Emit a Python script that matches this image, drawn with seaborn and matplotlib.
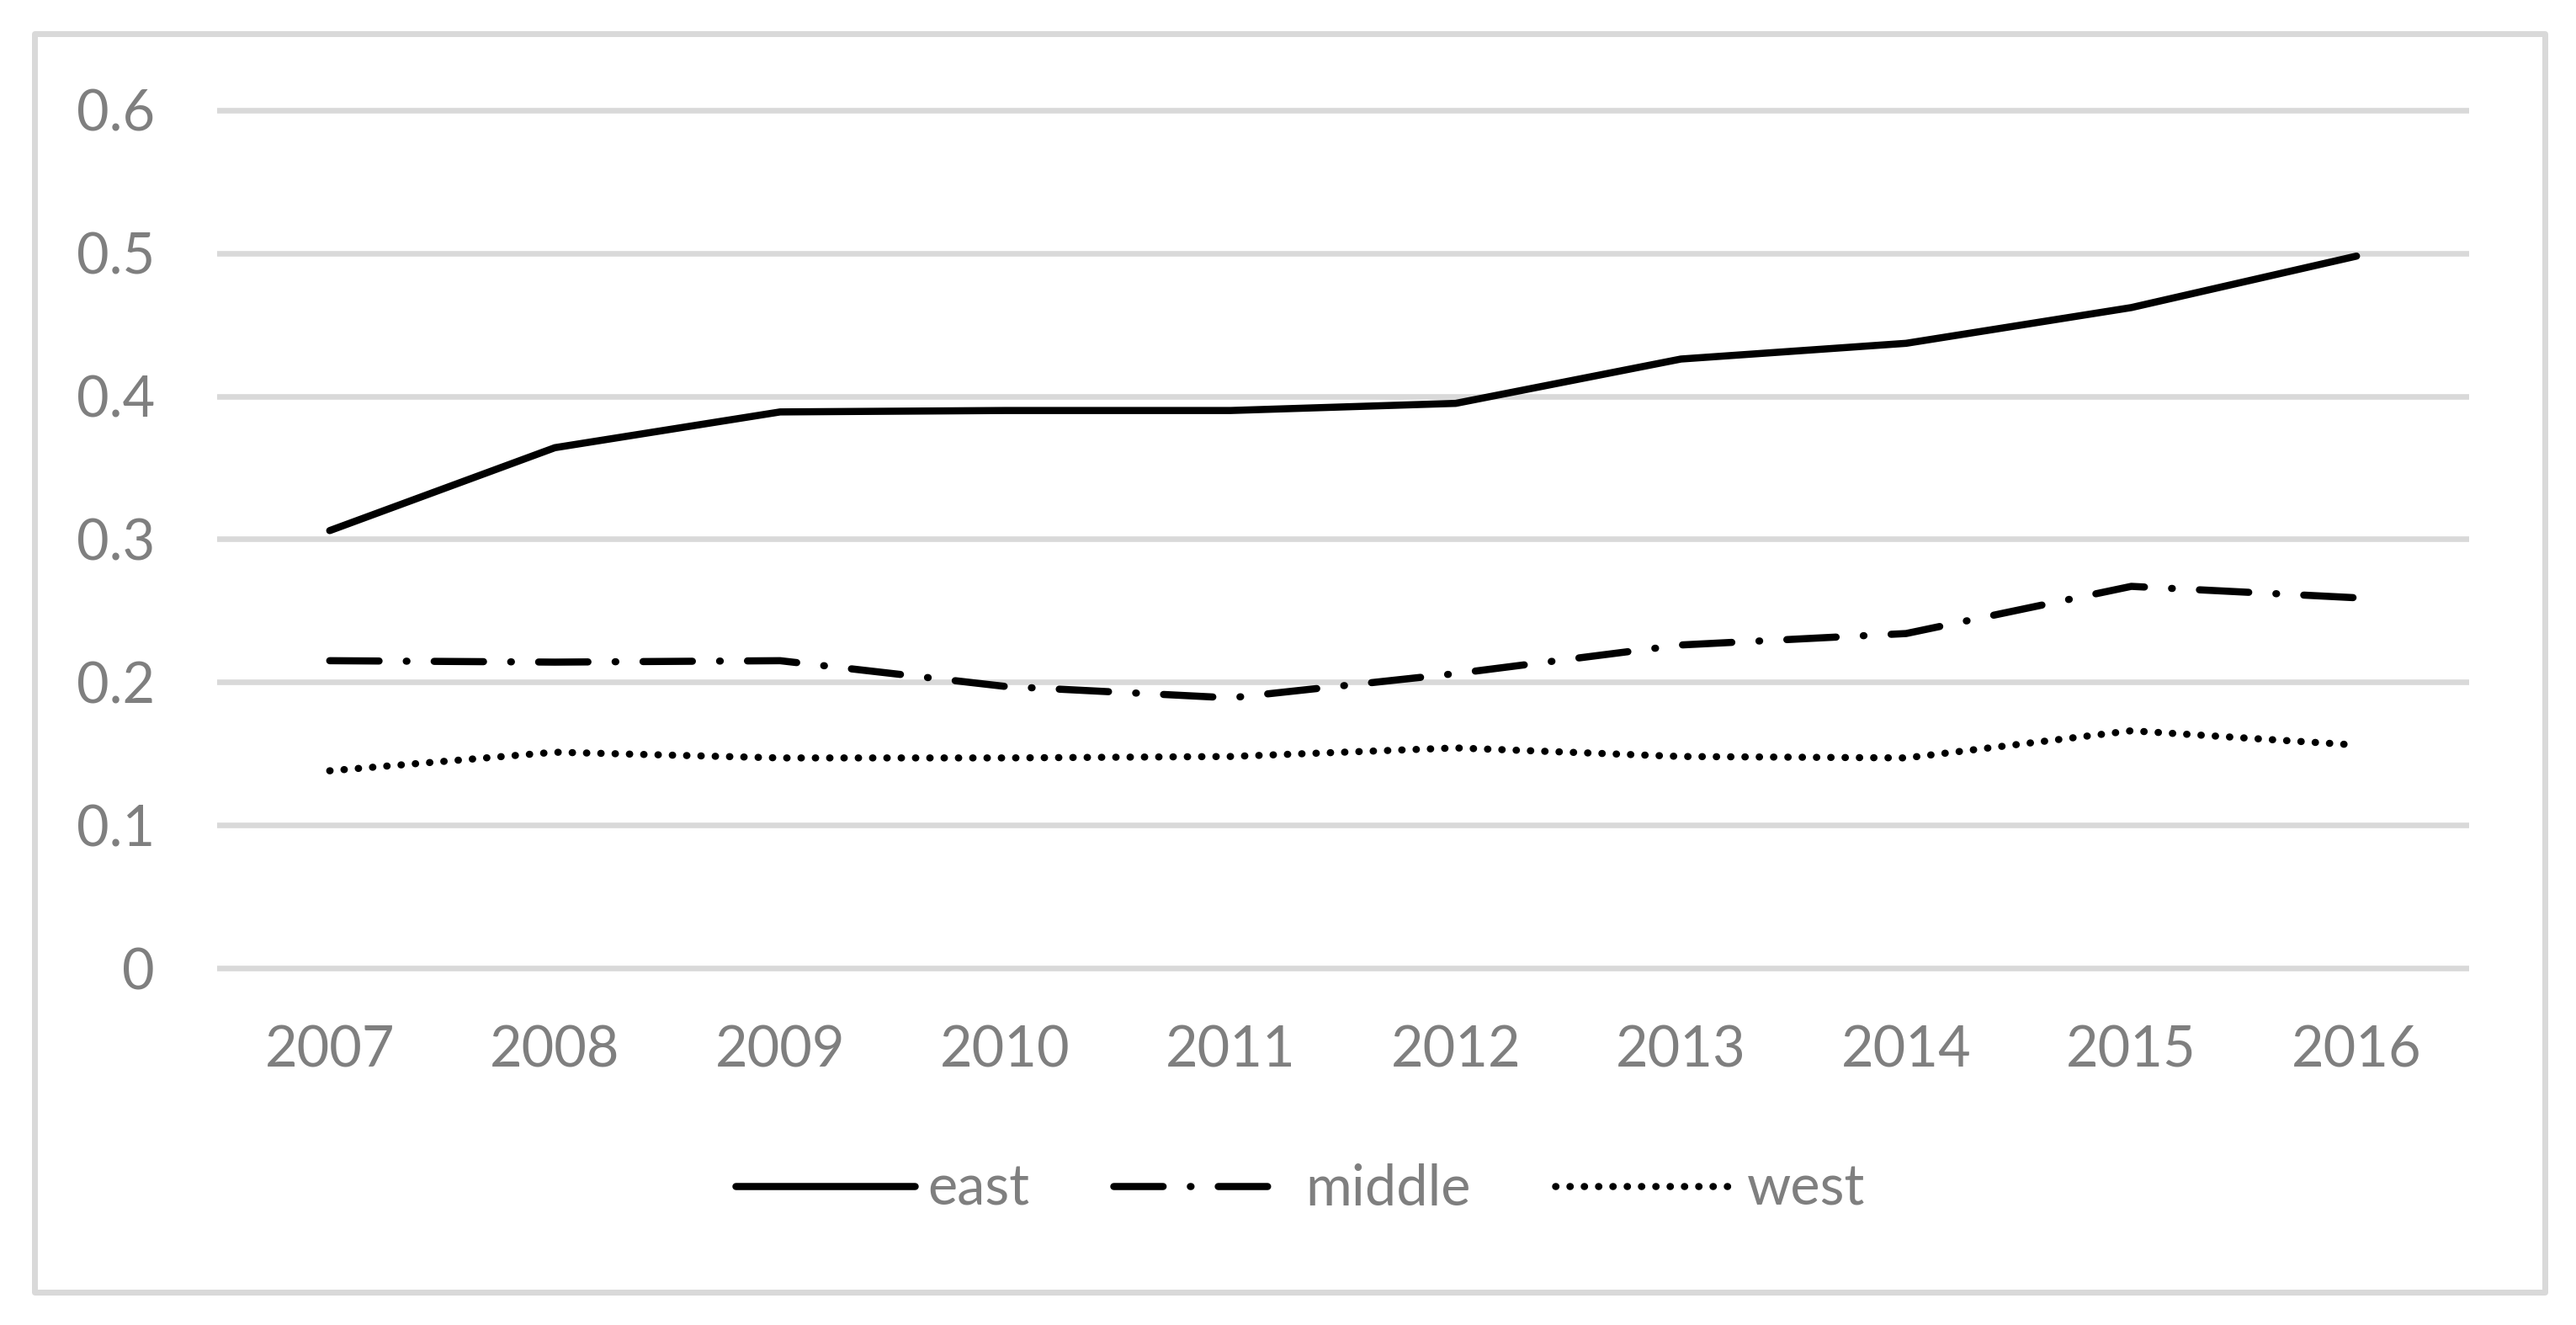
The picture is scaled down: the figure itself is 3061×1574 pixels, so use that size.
import matplotlib
matplotlib.use('Agg')
import matplotlib.pyplot as plt
import matplotlib.patches as patches
import seaborn as sns
import pandas as pd

# values
years = [2007, 2008, 2009, 2010, 2011, 2012, 2013, 2014, 2015, 2016]
east = [0.306, 0.364, 0.389, 0.390, 0.390, 0.395, 0.426, 0.437, 0.462, 0.498]
middle = [0.215, 0.214, 0.215, 0.197, 0.189, 0.206, 0.226, 0.234, 0.267, 0.259]
west = [0.138, 0.151, 0.147, 0.147, 0.148, 0.154, 0.148, 0.147, 0.166, 0.156]
series_names = ['east', 'middle', 'west']
yticks = [0, 0.1, 0.2, 0.3, 0.4, 0.5, 0.6]
ytick_labels = ['0', '0.1', '0.2', '0.3', '0.4', '0.5', '0.6']

df = pd.DataFrame({
    'year': years * 3,
    'value': east + middle + west,
    'region': [n for n in series_names for _ in years],
})

sns.set_theme(style='white')
plt.rcParams['font.family'] = ['Lato', 'DejaVu Sans']

W, H, DPI = 3061, 1574, 200
grey = '#7f7f7f'
grid_col = '#d9d9d9'
lw = 3.06

fig = plt.figure(figsize=(W / DPI, H / DPI), dpi=DPI)
ax = fig.add_axes([258 / W, 1 - 1156.8 / H, (2934 - 258) / W, (1156.8 - 124.2) / H])

# dash patterns in linewidth units (round caps add one lw per dash)
dash_styles = {'east': '', 'middle': (6.9, 3.8, 0.1, 3.8), 'west': (0.05, 1.95)}
sns.lineplot(data=df, x='year', y='value', style='region', dashes=dash_styles,
             color='black', linewidth=lw, legend=False, ax=ax,
             dash_capstyle='round', solid_capstyle='round')

ax.set_xlim(2006.5, 2016.5)
ax.set_ylim(-0.004, 0.604)
ax.set_xticks(years)
ax.set_xticklabels([str(y) for y in years])
ax.set_yticks(yticks)
ax.set_yticklabels(ytick_labels)
ax.set_xlabel('')
ax.set_ylabel('')
ax.grid(axis='y', color=grid_col, linewidth=2.4)
ax.set_axisbelow(True)
for s in ax.spines.values():
    s.set_visible(False)
ax.tick_params(axis='both', length=0, labelsize=24, labelcolor=grey)
ax.tick_params(axis='x', pad=22)
ax.tick_params(axis='y', pad=26.6)

handles = ax.get_lines()[:3]
fig.legend(handles, series_names, loc='center', bbox_to_anchor=(1545 / W, 1 - 1413 / H),
           ncol=3, frameon=False, fontsize=24, labelcolor=grey,
           handlelength=3.2, handletextpad=0.22, columnspacing=1.5)

# outer chart border
border = patches.Rectangle((40.5 / W, 1 - 1534.5 / H), (3024 - 40.5) / W, (1534.5 - 39.5) / H,
                           transform=fig.transFigure, fill=False, edgecolor=grid_col,
                           linewidth=2.52, joinstyle='round')
fig.patches.append(border)

fig.savefig('out.png', dpi=DPI, facecolor='white')
